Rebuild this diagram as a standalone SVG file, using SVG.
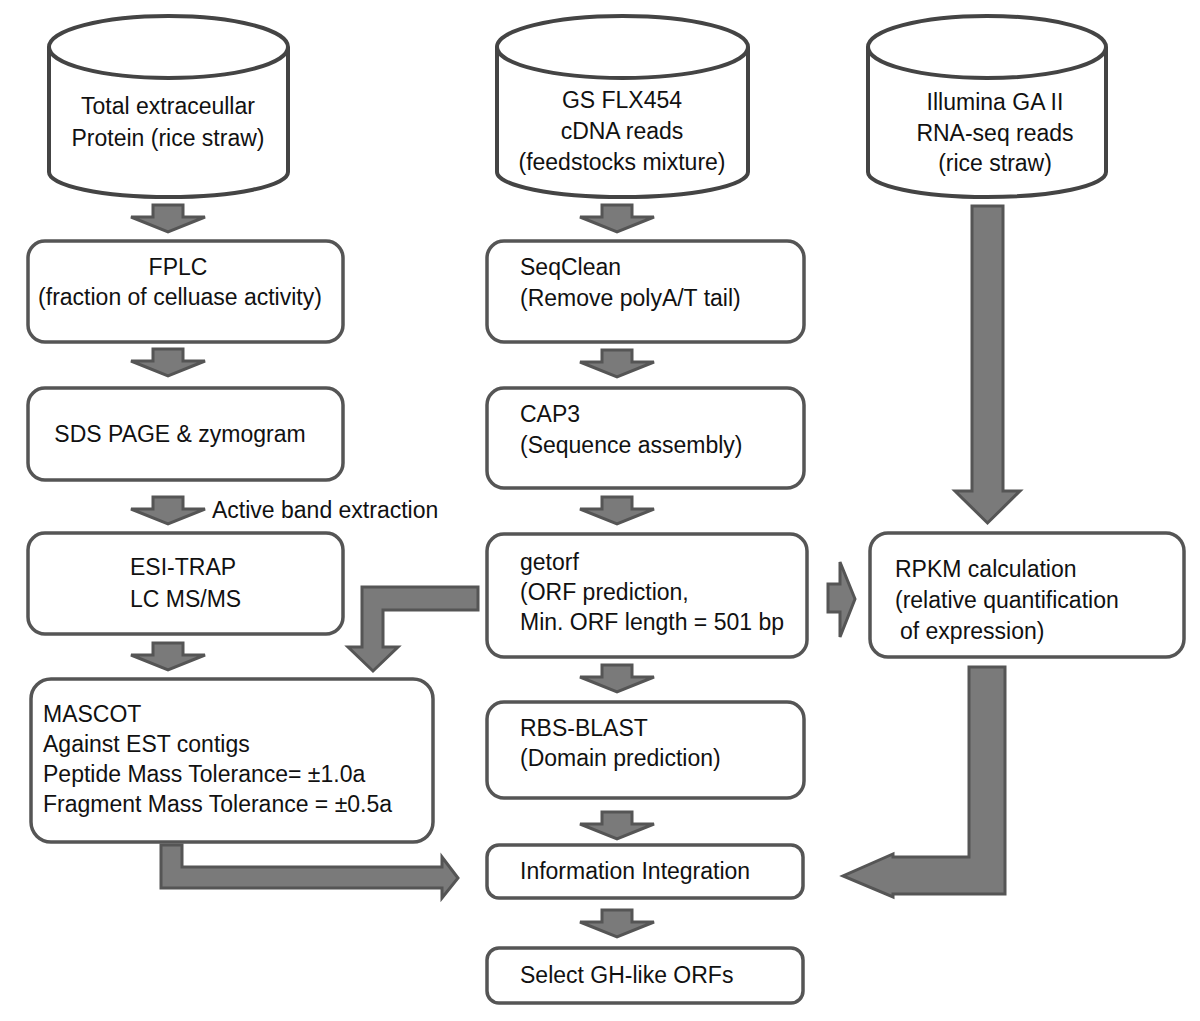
<svg xmlns="http://www.w3.org/2000/svg" width="1200" height="1021" viewBox="0 0 1200 1021">
<style>
text{font-family:"Liberation Sans",Arial,sans-serif;font-size:23px;fill:#111}
.c{text-anchor:middle}
.box{fill:#fff;stroke:#555;stroke-width:3.5}
.cyl{fill:#fff;stroke:#444;stroke-width:4}
.arr{fill:#7a7a7a;stroke:#555;stroke-width:3;stroke-linejoin:miter}
</style>
<rect width="1200" height="1021" fill="#fff"/>
<defs>
<path id="dn" d="M-15,0 L15,0 L15,12 L37,12 L0,27 L-37,12 L-15,12 Z"/>
</defs>

<g id="cyl-protein">
<path class="cyl" d="M49,47 L49,172 A119.5,25 0 0 0 288,172 L288,47"/>
<ellipse class="cyl" cx="168.5" cy="47" rx="119.5" ry="31"/>
<text class="c" x="168" y="114">Total extraceullar</text>
<text class="c" x="168" y="146">Protein (rice straw)</text>
</g>
<g id="cyl-454">
<path class="cyl" d="M497,47 L497,172 A125.5,25 0 0 0 748,172 L748,47"/>
<ellipse class="cyl" cx="622.5" cy="47" rx="125.5" ry="31"/>
<text class="c" x="622" y="108">GS FLX454</text>
<text class="c" x="622" y="139">cDNA reads</text>
<text class="c" x="622" y="170">(feedstocks mixture)</text>
</g>
<g id="cyl-illumina">
<path class="cyl" d="M868,47 L868,172 A119,25 0 0 0 1106,172 L1106,47"/>
<ellipse class="cyl" cx="987" cy="47" rx="119" ry="31"/>
<text class="c" x="995" y="110">Illumina GA II</text>
<text class="c" x="995" y="141">RNA-seq reads</text>
<text class="c" x="995" y="171">(rice straw)</text>
</g>

<g id="fplc">
<rect class="box" x="28" y="241" width="315" height="101" rx="17"/>
<text class="c" x="178" y="275">FPLC</text>
<text class="c" x="180" y="305">(fraction of celluase activity)</text>
</g>
<g id="sds">
<rect class="box" x="28" y="388" width="315" height="92" rx="17"/>
<text class="c" x="180" y="442">SDS PAGE &amp; zymogram</text>
</g>
<g id="esi">
<rect class="box" x="28" y="533" width="315" height="101" rx="17"/>
<text x="130" y="575">ESI-TRAP</text>
<text x="130" y="607">LC MS/MS</text>
</g>
<g id="mascot">
<rect class="box" x="31" y="679" width="402" height="163" rx="20"/>
<text x="43" y="722">MASCOT</text>
<text x="43" y="752">Against EST contigs</text>
<text x="43" y="782">Peptide Mass Tolerance= ±1.0a</text>
<text x="43" y="812">Fragment Mass Tolerance = ±0.5a</text>
</g>

<g id="seqclean">
<rect class="box" x="487" y="241" width="317" height="101" rx="17"/>
<text x="520" y="275">SeqClean</text>
<text x="520" y="306">(Remove polyA/T tail)</text>
</g>
<g id="cap3">
<rect class="box" x="487" y="388" width="317" height="100" rx="17"/>
<text x="520" y="422">CAP3</text>
<text x="520" y="453">(Sequence assembly)</text>
</g>
<g id="getorf">
<rect class="box" x="487" y="534" width="320" height="123" rx="17"/>
<text x="520" y="570">getorf</text>
<text x="520" y="600">(ORF prediction,</text>
<text x="520" y="630">Min. ORF length = 501 bp</text>
</g>
<g id="rbs">
<rect class="box" x="487" y="702" width="317" height="96" rx="17"/>
<text x="520" y="736">RBS-BLAST</text>
<text x="520" y="766">(Domain prediction)</text>
</g>
<g id="integration">
<rect class="box" x="487" y="845" width="316" height="53" rx="12"/>
<text x="520" y="879">Information Integration</text>
</g>
<g id="select">
<rect class="box" x="487" y="948" width="316" height="55" rx="12"/>
<text x="520" y="983">Select GH-like ORFs</text>
</g>
<g id="rpkm">
<rect class="box" x="870" y="533" width="314" height="124" rx="18"/>
<text x="895" y="577">RPKM calculation</text>
<text x="895" y="608">(relative quantification</text>
<text x="900" y="639">of expression)</text>
</g>

<g id="connectors">
<use href="#dn" class="arr" x="168" y="205"/>
<use href="#dn" class="arr" x="168" y="349"/>
<use href="#dn" class="arr" x="168" y="497"/>
<use href="#dn" class="arr" x="168" y="643"/>
<use href="#dn" class="arr" x="617" y="205"/>
<use href="#dn" class="arr" x="617" y="350"/>
<use href="#dn" class="arr" x="617" y="497"/>
<use href="#dn" class="arr" x="617" y="665"/>
<use href="#dn" class="arr" x="617" y="812"/>
<use href="#dn" class="arr" x="617" y="910"/>
<text x="212" y="518">Active band extraction</text>
<path class="arr" d="M972,206 L1003,206 L1003,491 L1020,491 L987.5,523 L955,491 L972,491 Z"/>
<path class="arr" d="M828,584 L840,584 L840,562 L855,599 L840,637 L840,612 L828,612 Z"/>
<path class="arr" d="M969,667 L1005,667 L1005,894 L893,894 L893,897 L843,876 L893,854 L893,857 L969,857 Z"/>
<path class="arr" d="M478,587 L478,610 L383,610 L383,647 L398,647 L373,671 L348,647 L362,647 L362,587 Z"/>
<path class="arr" d="M161,845 L182,845 L182,867 L442,867 L442,857 L458,878 L442,898 L442,888 L161,888 Z"/>
</g>
</svg>
